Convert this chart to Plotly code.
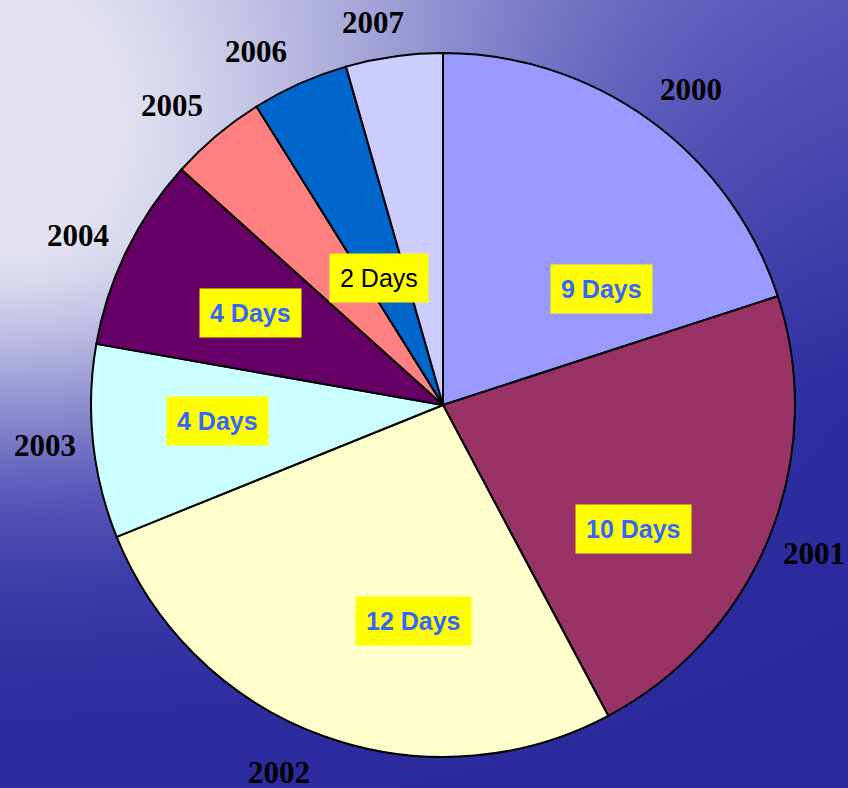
import numpy as np
import plotly.graph_objects as go

# ---- data ----
years = ["2000", "2001", "2002", "2003", "2004", "2005", "2006", "2007"]
days = [9, 10, 12, 4, 4, 2, 2, 2]
day_labels = ["9 Days", "10 Days", "12 Days", "4 Days", "4 Days", "", "2 Days", ""]
slice_colors = ["#9999FF", "#993366", "#FFFFCC", "#CCFFFF", "#660066", "#FF8080", "#0066CC", "#CCCCFF"]

# ---- layout geometry (pixels) ----
W, H = 848, 788
CX, CY, R = 443, 405, 352          # pie centre (from top) and radius
# label placement inside each slice: (fraction along slice span, radial fraction)
inner_place = [(0.746, 0.557), (0.639, 0.645), (0.374, 0.619), (0.56, 0.641),
               (0.484, 0.607), (0.5, 0.5), (0.33, 0.404), (0.5, 0.5)]
# outside year labels: (angle nudge in degrees from slice middle, distance in px)
outer_place = [(2.2, 401), (-0.2, 400), (4.0, 402), (0.2, 400),
               (-1.1, 402), (-2.1, 404), (-3.9, 400), (-2.3, 389)]

fig = go.Figure()

# background gradient (light fan from the left, darker blue to the right and bottom)
gx = np.arange(0, W + 8, 8)
gy = np.arange(0, H + 8, 8)
X, Y = np.meshgrid(gx, gy)
sy = np.where(Y < 230, 520.0, 250.0)
L = 0.92 * np.exp(-((X / 470.0) ** 2 + ((Y - 230) / sy) ** 2))
L = L + 0.25 * np.clip(1 - Y / 380.0, 0, None)
L = np.clip(L, 0, 1)
fig.add_trace(go.Heatmap(
    x=gx, y=gy, z=L, zmin=0, zmax=1, zsmooth="best", showscale=False, hoverinfo="skip",
    colorscale=[[0, "#2a2a9e"], [0.3, "#5a5aba"], [0.65, "#a2a2d8"], [1, "#e2e2f2"]],
))

px0, px1 = (CX - R) / W, (CX + R) / W
py0, py1 = (H - CY - R) / H, (H - CY + R) / H
fig.add_trace(go.Pie(
    labels=years, values=days, sort=False, direction="clockwise", rotation=0,
    marker=dict(colors=slice_colors, line=dict(color="black", width=2)),
    textinfo="none", hoverinfo="skip", showlegend=False,
    domain=dict(x=[px0, px1], y=[py0, py1]),
))

total = float(sum(days))
annotations = []
start = 0.0
for i, (yr, v) in enumerate(zip(years, days)):
    span = v / total * 360.0
    mid = start + span / 2
    nudge, dist = outer_place[i]
    a = np.radians(mid + nudge)
    ox = CX + dist * np.sin(a)
    oy = CY - dist * np.cos(a)
    annotations.append(dict(
        x=ox / W, y=1 - oy / H, xref="paper", yref="paper", text="<b>" + yr + "</b>", showarrow=False,
        font=dict(family="Liberation Serif, Times New Roman, serif", size=31, color="black"),
        xanchor="center", yanchor="middle",
    ))
    if day_labels[i]:
        f, rf = inner_place[i]
        b = np.radians(start + f * span)
        ix = CX + rf * R * np.sin(b)
        iy = CY - rf * R * np.cos(b)
        is_small = v <= 2
        annotations.append(dict(
            x=ix / W, y=1 - iy / H, xref="paper", yref="paper",
            text=day_labels[i] if is_small else "<b>" + day_labels[i] + "</b>",
            showarrow=False, bgcolor="#FFFF00", borderpad=10,
            font=dict(family="Liberation Sans, Arial, sans-serif", size=25,
                      color="black" if is_small else "#3366FF"),
            xanchor="center", yanchor="middle",
        ))
    start += span

fig.update_layout(
    width=W, height=H, margin=dict(l=0, r=0, t=0, b=0), autosize=False,
    xaxis=dict(range=[0, W], visible=False, fixedrange=True),
    yaxis=dict(range=[H, 0], visible=False, fixedrange=True),
    paper_bgcolor="#5a5ab8", plot_bgcolor="#5a5ab8",
    annotations=annotations,
)

fig.write_html("out.html", config={"displayModeBar": False},
               post_script="document.body.style.margin='0';document.body.style.overflow='hidden';")
